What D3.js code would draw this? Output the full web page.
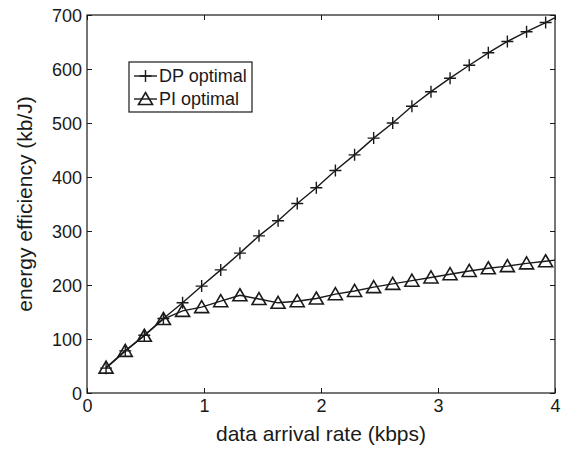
<!DOCTYPE html>
<html>
<head>
<meta charset="utf-8">
<script src="https://cdn.jsdelivr.net/npm/d3@7"></script>
<style>
  body { margin: 0; background: #fff; }
  text { font-family: "Liberation Sans", Arial, Helvetica, sans-serif; fill: #1a1a1a; }
</style>
</head>
<body>
<div id="chart"></div>
<script>
// data
var rates = [0.163, 0.327, 0.49, 0.653, 0.817, 0.98, 1.143, 1.307, 1.47, 1.633, 1.797, 1.96,
             2.123, 2.287, 2.45, 2.613, 2.777, 2.94, 3.103, 3.267, 3.43, 3.593, 3.757, 3.92];
var dpOptimal = [46, 78, 107, 138, 167, 198, 228, 259, 291, 319, 351, 380,
                 412, 441, 472, 500, 531, 558, 583, 607, 630, 651, 669, 686];
var piOptimal = [47, 78, 106, 137, 152, 159, 170, 181, 174, 167, 170, 175,
                 183, 189, 196, 202, 208, 214, 220, 226, 231, 235, 240, 244];
// line end at the right edge (no marker drawn there)
var lineEnd = {x: 4, dp: 695, pi: 246};
var xTicks = [0, 1, 2, 3, 4];
var yTicks = [0, 100, 200, 300, 400, 500, 600, 700];
var seriesNames = ["DP optimal", "PI optimal"];

var W = 561, H = 449;
var margin = {top: 15, right: 6, bottom: 56, left: 87};
var ink = "#1a1a1a";

var svg = d3.select("#chart").append("svg")
    .attr("width", W)
    .attr("height", H);

var x = d3.scaleLinear().domain([0, 4]).range([margin.left, W - margin.right]);
var y = d3.scaleLinear().domain([0, 700]).range([H - margin.bottom, margin.top]);

var x0 = x.range()[0], x1 = x.range()[1], y0 = y.range()[0], y1 = y.range()[1];

// axes (ticks point inward, box on)
var tickLen = 5;
function styleAxis(g) {
    g.select(".domain").remove();
    g.selectAll(".tick line").attr("stroke", ink);
    g.selectAll(".tick text").style("font-size", "18px").attr("fill", ink);
}

svg.append("g")
    .attr("transform", "translate(0," + y0 + ")")
    .call(d3.axisBottom(x).tickValues(xTicks).tickFormat(d3.format("d")).tickSizeInner(-tickLen).tickPadding(6))
    .call(styleAxis)
    .selectAll(".tick text").attr("dy", "0.72em").attr("y", 6);

svg.append("g")
    .attr("transform", "translate(0," + y1 + ")")
    .call(d3.axisTop(x).tickValues(xTicks).tickFormat("").tickSizeInner(-tickLen))
    .call(styleAxis);

svg.append("g")
    .attr("transform", "translate(" + x0 + ",0)")
    .call(d3.axisLeft(y).tickValues(yTicks).tickFormat(d3.format("d")).tickSizeInner(-tickLen).tickPadding(5))
    .call(styleAxis)
    .selectAll(".tick text").attr("x", -5).attr("dy", "0.36em");

svg.append("g")
    .attr("transform", "translate(" + x1 + ",0)")
    .call(d3.axisRight(y).tickValues(yTicks).tickFormat("").tickSizeInner(-tickLen))
    .call(styleAxis);

svg.append("rect")
    .attr("x", x0).attr("y", y1)
    .attr("width", x1 - x0).attr("height", y0 - y1)
    .attr("fill", "none")
    .attr("stroke", ink)
    .attr("stroke-width", 1.2);

// labels
svg.append("text")
    .attr("x", (x0 + x1) / 2)
    .attr("y", 441)
    .attr("text-anchor", "middle")
    .style("font-size", "21px")
    .text("data arrival rate (kbps)");

svg.append("text")
    .attr("transform", "translate(32," + ((y0 + y1) / 2) + ") rotate(-90)")
    .attr("text-anchor", "middle")
    .style("font-size", "21px")
    .text("energy efficiency (kb/J)");

// series
var dpData = rates.map(function(r, i) { return {x: r, y: dpOptimal[i]}; });
var piData = rates.map(function(r, i) { return {x: r, y: piOptimal[i]}; });

var line = d3.line()
    .x(function(d) { return x(d.x); })
    .y(function(d) { return y(d.y); });

svg.append("path")
    .datum(piData.concat([{x: lineEnd.x, y: lineEnd.pi}]))
    .attr("d", line)
    .attr("fill", "none")
    .attr("stroke", ink)
    .attr("stroke-width", 1.4);

svg.append("path")
    .datum(dpData.concat([{x: lineEnd.x, y: lineEnd.dp}]))
    .attr("d", line)
    .attr("fill", "none")
    .attr("stroke", ink)
    .attr("stroke-width", 1.4);

var plusPath = "M-6,0H6M0,-6V6";
var triPath = "M0,-6.5L7,5.5L-7,5.5Z";

svg.append("g").selectAll("path")
    .data(piData)
    .enter().append("path")
    .attr("transform", function(d) { return "translate(" + x(d.x) + "," + y(d.y) + ")"; })
    .attr("d", triPath)
    .attr("fill", "none")
    .attr("stroke", ink)
    .attr("stroke-width", 1.6);

svg.append("g").selectAll("path")
    .data(dpData)
    .enter().append("path")
    .attr("transform", function(d) { return "translate(" + x(d.x) + "," + y(d.y) + ")"; })
    .attr("d", plusPath)
    .attr("fill", "none")
    .attr("stroke", ink)
    .attr("stroke-width", 1.4);

// legend
var legend = svg.append("g").attr("transform", "translate(129,62)");
legend.append("rect")
    .attr("width", 123).attr("height", 50)
    .attr("fill", "#fff")
    .attr("stroke", ink)
    .attr("stroke-width", 1.2);

var rows = legend.selectAll("g.row")
    .data(seriesNames)
    .enter().append("g")
    .attr("class", "row")
    .attr("transform", function(d, i) { return "translate(0," + (14 + i * 23) + ")"; });

rows.append("line")
    .attr("x1", 5).attr("x2", 28)
    .attr("stroke", ink)
    .attr("stroke-width", 1.4);

rows.append("path")
    .attr("transform", "translate(16.5,0)")
    .attr("d", function(d, i) { return i === 0 ? plusPath : triPath; })
    .attr("fill", "none")
    .attr("stroke", ink)
    .attr("stroke-width", function(d, i) { return i === 0 ? 1.4 : 1.6; });

rows.append("text")
    .attr("x", 30)
    .attr("y", 6)
    .style("font-size", "18px")
    .text(function(d) { return d; });
</script>
</body>
</html>
